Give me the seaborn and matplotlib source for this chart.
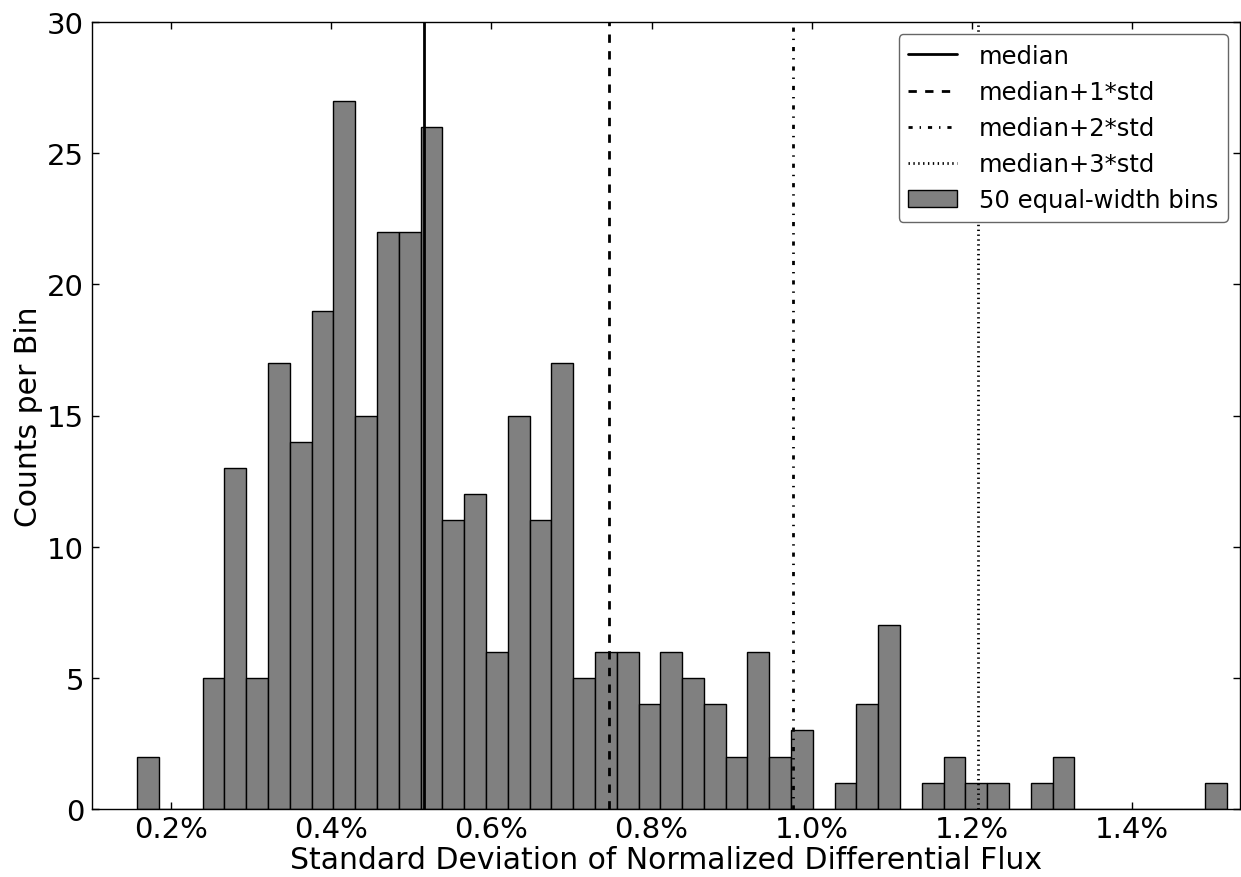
import numpy as np
import pandas as pd
import matplotlib
matplotlib.use("Agg")
import matplotlib.pyplot as plt
from matplotlib.ticker import MultipleLocator, FuncFormatter
from matplotlib.lines import Line2D
from matplotlib.patches import Patch
import seaborn as sns

# ---- data ----
bin_start = 0.1575      # left edge of first bin, in %
bin_width = 0.027224    # width of each of the 50 bins, in %
counts = [2, 0, 0, 5, 13, 5, 17, 14, 19, 27,
          15, 22, 22, 26, 11, 12, 6, 15, 11, 17,
          5, 6, 6, 4, 6, 5, 4, 2, 6, 2,
          3, 0, 1, 4, 7, 0, 1, 2, 1, 1,
          0, 1, 2, 0, 0, 0, 0, 0, 0, 1]
median = 0.5157
std = 0.2305
line_labels = ["median", "median+1*std", "median+2*std", "median+3*std"]
line_dashes = [None, (6, 6), (3, 5, 1, 5), (1, 2.5)]
hist_label = "50 equal-width bins"
xlabel = "Standard Deviation of Normalized Differential Flux"
ylabel = "Counts per Bin"

sns.set_style("ticks")
plt.rcParams["font.family"] = ["DejaVu Sans"]
plt.rcParams["xtick.direction"] = "in"
plt.rcParams["ytick.direction"] = "in"
plt.rcParams["xtick.top"] = True
plt.rcParams["ytick.right"] = True
plt.rcParams["lines.scale_dashes"] = False
for k in ["text.color", "axes.labelcolor", "xtick.color", "ytick.color", "axes.edgecolor"]:
    plt.rcParams[k] = "black"

W, H = 1241, 878
fig = plt.figure(figsize=(W / 100, H / 100), dpi=100)
ax = fig.add_axes([91.7 / W, (H - 810) / H, (1240 - 91.7) / W, (810 - 23) / H])

n = len(counts)
edges = bin_start + bin_width * np.arange(n + 1)
centers = edges[:-1] + bin_width / 2
df = pd.DataFrame({"x": centers, "w": np.asarray(counts, dtype=float)})

sns.histplot(data=df, x="x", weights="w", bins=edges.tolist(), stat="count",
             color="#808080", edgecolor="black", linewidth=1.0,
             alpha=1.0, ax=ax)


def styled(line, dashes):
    if dashes is None:
        line.set_linestyle("-")
    else:
        line.set_linestyle((0, dashes))
    return line


handles = []
for k, (lab, dsh) in enumerate(zip(line_labels, line_dashes)):
    ln = ax.axvline(median + k * std, color="black", linewidth=2.0)
    styled(ln, dsh)
    h = Line2D([], [], color="black", linewidth=2.0, label=lab)
    handles.append(styled(h, dsh))
handles.append(Patch(facecolor="#808080", edgecolor="black", linewidth=1.0, label=hist_label))

ax.set_xlim(0.1006, 1.535)
ax.set_ylim(0, 30)
ax.xaxis.set_major_locator(MultipleLocator(0.2))
ax.yaxis.set_major_locator(MultipleLocator(5))
ax.xaxis.set_major_formatter(FuncFormatter(lambda v, p: f"{v:.1f}%"))
ax.tick_params(axis="both", which="major", labelsize=21, length=5, width=1,
               top=True, right=True)
ax.tick_params(axis="x", pad=4)
ax.tick_params(axis="y", pad=5.5)
for s in ax.spines.values():
    s.set_linewidth(1.0)
    s.set_color("black")

ax.set_xlabel(xlabel, fontsize=21.5, labelpad=2)
ax.set_ylabel(ylabel, fontsize=21.5, labelpad=3)

leg = ax.legend(handles=handles, loc="upper right", fontsize=17.5,
                fancybox=True, framealpha=1.0, edgecolor="0.4",
                handlelength=2.0, handletextpad=0.9, labelspacing=0.5,
                borderpad=0.4, borderaxespad=0.5)
leg.get_frame().set_linewidth(1.0)

fig.savefig("out.png", dpi=100)
